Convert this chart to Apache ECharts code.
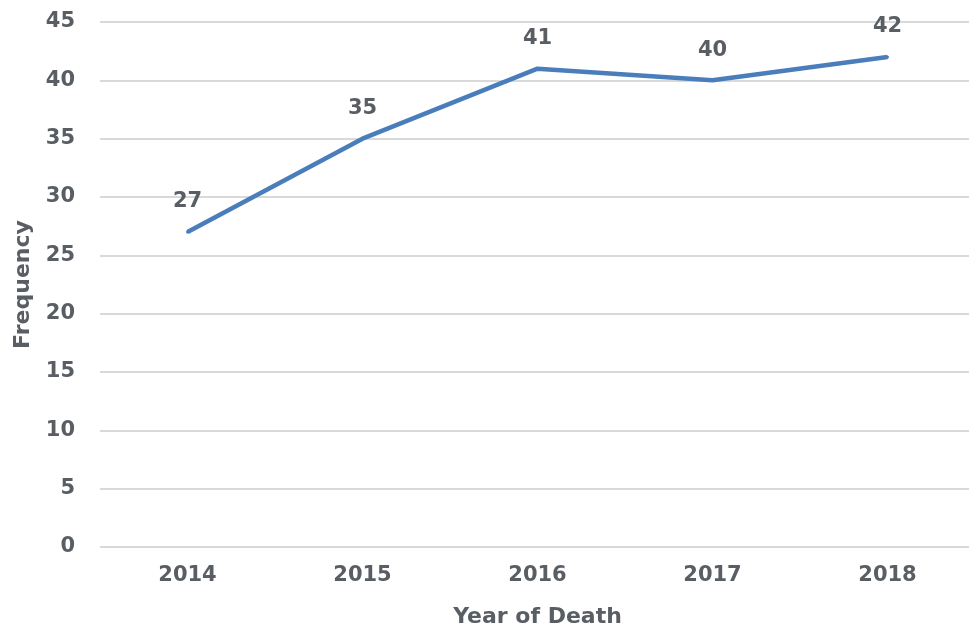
<!DOCTYPE html>
<html>
<head>
<meta charset="utf-8">
<script src="https://cdn.jsdelivr.net/npm/echarts@6/dist/echarts.min.js"></script>
<style>
  html, body { margin: 0; padding: 0; background: #fff; overflow: hidden; }
  #chart { width: 975px; height: 633px; }
</style>
</head>
<body>
<div id="chart"></div>
<script>
// Deaths per year
const years = ['2014', '2015', '2016', '2017', '2018'];
const frequency = [27, 35, 41, 40, 42];
const yTicks = { min: 0, max: 45, interval: 5 };

const textColor = '#595e64';
const lineColor = '#4a7ebb';
const fontFamily = '"DejaVu Sans", sans-serif';

const chart = echarts.init(document.getElementById('chart'));
chart.setOption({
  animation: false,
  grid: { left: 100, top: 22, right: 0, bottom: 86 },
  xAxis: {
    type: 'category',
    data: years,
    boundaryGap: true,
    name: 'Year of Death',
    nameLocation: 'middle',
    nameGap: 59,
    nameTextStyle: { color: textColor, fontSize: 22, fontWeight: 'bold', fontFamily },
    axisLine: { show: false },
    axisTick: { show: false },
    axisLabel: { color: textColor, fontSize: 21, fontWeight: 'bold', fontFamily, margin: 18 }
  },
  yAxis: {
    type: 'value',
    min: yTicks.min,
    max: yTicks.max,
    interval: yTicks.interval,
    name: 'Frequency',
    nameLocation: 'middle',
    nameGap: 66,
    nameTextStyle: { color: textColor, fontSize: 22, fontWeight: 'bold', fontFamily },
    axisLine: { show: false },
    axisTick: { show: false },
    axisLabel: { color: textColor, fontSize: 21, fontWeight: 'bold', fontFamily, margin: 25 },
    splitLine: { lineStyle: { color: '#d9d9d9', width: 2 } }
  },
  series: [{
    type: 'line',
    data: frequency,
    symbol: 'circle',
    symbolSize: 3,
    showSymbol: true,
    itemStyle: { color: lineColor },
    lineStyle: { color: lineColor, width: 4.5 },
    label: {
      show: true,
      position: 'top',
      distance: 18,
      color: textColor,
      fontSize: 21,
      fontWeight: 'bold',
      fontFamily
    }
  }]
});
</script>
</body>
</html>
